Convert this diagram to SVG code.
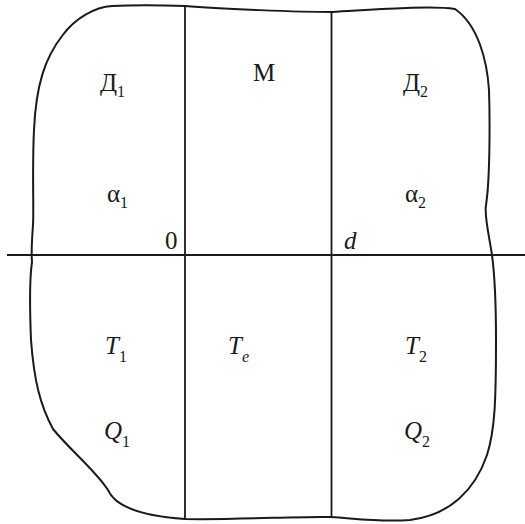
<svg xmlns="http://www.w3.org/2000/svg" width="525" height="524" viewBox="0 0 525 524">
<style>
.ln{stroke:#1a1a1a;stroke-width:1.8;fill:none}
.ol{stroke:#1a1a1a;stroke-width:2;fill:none}
text{font-family:"Liberation Serif","Times New Roman",serif;font-size:25px;fill:#1a1a1a}
.it{font-style:italic}
.sb{font-size:16px;font-style:normal}
</style>
<rect width="525" height="524" fill="#fff"/>
<g id="outline">
<path class="ol" d="M185,6 C160,5 130,5 112,6 C95,7 75,18 62,36 C45,58 36,85 34,130 C32,170 34,210 33,225 C32,240 31,250 32,262 C30,275 29,290 31,340 C34,380 40,405 53,429 C70,450 95,470 108,490 C115,506 140,516 185,519 C240,520 300,516 331,517 C360,519 380,522 410,520 C450,515 475,490 487,455 C495,430 496,400 496,340 C496,300 494,270 492,255 C489,235 484,215 486,205 C490,180 490,120 489,90 C487,60 478,25 455,9 C430,5 370,10 332,12 C300,12 220,9 185,6 Z"/>
</g>
<g id="connectors">
<line class="ln" x1="185" y1="6" x2="185" y2="519"/>
<line class="ln" x1="331.5" y1="12" x2="331.5" y2="517"/>
<line class="ln" x1="7" y1="255" x2="525" y2="255"/>
</g>
<g id="D1"><text x="100" y="91">Д<tspan class="sb" dy="6">1</tspan></text></g>
<g id="M"><text x="253" y="81">М</text></g>
<g id="D2"><text x="403" y="91">Д<tspan class="sb" dy="6">2</tspan></text></g>
<g id="a1"><text x="107" y="202">α<tspan class="sb" dy="6">1</tspan></text></g>
<g id="a2"><text x="405" y="202">α<tspan class="sb" dy="6">2</tspan></text></g>
<g id="zero"><text x="165" y="249">0</text></g>
<g id="d"><text class="it" x="344" y="249">d</text></g>
<g id="T1"><text class="it" x="105" y="354">T<tspan class="sb" dy="8">1</tspan></text></g>
<g id="Te"><text class="it" x="228" y="354">T<tspan font-size="16px" dy="8">e</tspan></text></g>
<g id="T2"><text class="it" x="405" y="354">T<tspan class="sb" dy="8">2</tspan></text></g>
<g id="Q1"><text class="it" x="104" y="439">Q<tspan class="sb" dy="8">1</tspan></text></g>
<g id="Q2"><text class="it" x="404" y="439">Q<tspan class="sb" dy="8">2</tspan></text></g>
</svg>
